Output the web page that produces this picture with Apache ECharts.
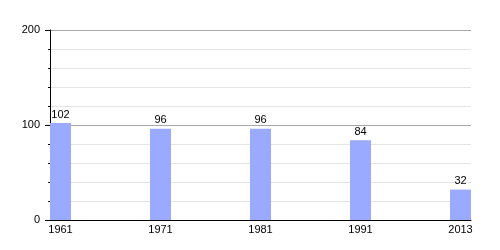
<!DOCTYPE html>
<html>
<head>
<meta charset="utf-8">
<script src="https://cdn.jsdelivr.net/npm/echarts@6/dist/echarts.min.js"></script>
<style>
html,body{margin:0;padding:0;background:#fff;}
#chart{width:500px;height:250px;}
</style>
</head>
<body>
<div id="chart"></div>
<script>
const categories = ['1961', '1971', '1981', '1991', '2013'];
const values = [102, 96, 96, 84, 32];
const yTicks = [0, 100, 200];

const BAR_W = 21;
const FONT = '"Liberation Sans", Arial, sans-serif';

const chart = echarts.init(document.getElementById('chart'), null, {renderer: 'canvas'});
const seriesData = values.map((v, i) => [i, v]);

chart.setOption({
  animation: false,
  backgroundColor: '#fff',
  grid: {left: 50, right: 29, top: 30, bottom: 30},
  xAxis: {
    type: 'value',
    min: 0,
    max: 4.21,
    interval: 1,
    splitLine: {show: false},
    axisTick: {show: false},
    axisLine: {show: true, lineStyle: {color: '#000', width: 1}},
    axisLabel: {
      show: true,
      color: '#000',
      fontSize: 11,
      fontFamily: FONT,
      margin: 4,
      padding: [0, 0, 0, BAR_W],
      showMaxLabel: false,
      formatter: v => Number.isInteger(v) && categories[v] !== undefined ? categories[v] : ''
    }
  },
  yAxis: {
    type: 'value',
    min: yTicks[0],
    max: yTicks[yTicks.length - 1],
    interval: 100,
    axisLine: {show: true, lineStyle: {color: '#000', width: 1}},
    axisTick: {show: true, length: 5, lineStyle: {color: '#000'}},
    minorTick: {show: true, splitNumber: 5, length: 2, lineStyle: {color: '#000'}},
    splitLine: {show: true, lineStyle: {color: '#a8a8a8', width: 1}},
    minorSplitLine: {show: true, lineStyle: {color: '#e4e4e4', width: 1}},
    axisLabel: {color: '#000', fontSize: 11, fontFamily: FONT, margin: 10}
  },
  series: [{
    type: 'custom',
    data: seriesData,
    clip: false,
    renderItem: function (params, api) {
      const i = api.value(0);
      const v = api.value(1);
      const base = api.coord([i, 0]);
      const top = api.coord([i, v]);
      return {
        type: 'group',
        children: [
          {
            type: 'rect',
            shape: {x: base[0], y: top[1], width: BAR_W, height: base[1] - top[1]},
            style: {fill: '#99aaff'}
          },
          {
            type: 'text',
            style: {
              text: String(v),
              x: base[0] + BAR_W / 2,
              y: top[1] - 3,
              align: 'center',
              verticalAlign: 'bottom',
              font: '11px ' + FONT,
              fill: '#000'
            }
          }
        ]
      };
    }
  }]
});
</script>
</body>
</html>
